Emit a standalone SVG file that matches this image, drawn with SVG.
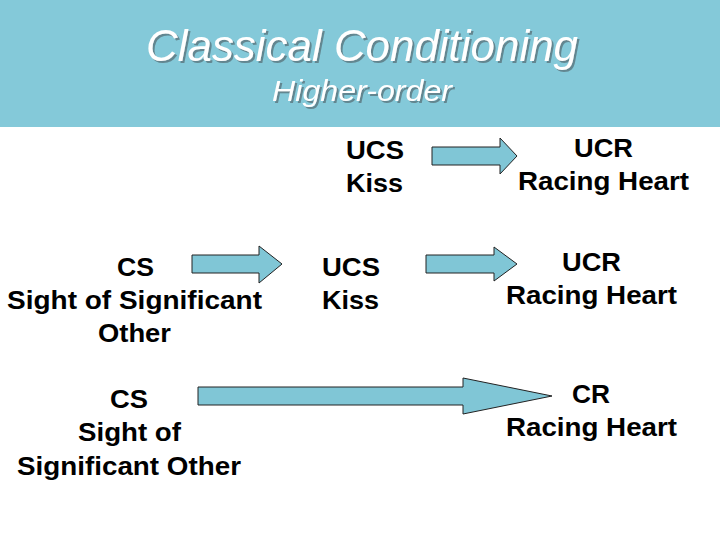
<svg xmlns="http://www.w3.org/2000/svg" width="720" height="540" viewBox="0 0 720 540">
<style>
.t{font-family:"Liberation Sans",Arial,sans-serif;font-weight:bold;font-size:26px;fill:#000}
.h{font-family:"Liberation Sans",Arial,sans-serif;font-style:italic;text-anchor:middle;fill:#fff}
.arr{fill:#80C6D6;stroke:#222;stroke-width:1}
</style>
<defs>
<filter id="shadow" x="-5%" y="-20%" width="110%" height="140%">
<feDropShadow dx="2" dy="2" stdDeviation="0.6" flood-color="#5E7F88" flood-opacity="0.9"/>
</filter>
</defs>
<rect x="0" y="0" width="720" height="540" fill="#fff"/>
<g id="header">
<rect x="0" y="0" width="720" height="127" fill="#84C9D9"/>
<text class="h" x="362" y="61" font-size="44" filter="url(#shadow)" textLength="432" lengthAdjust="spacingAndGlyphs">Classical Conditioning</text>
<text class="h" x="362" y="101" font-size="30" filter="url(#shadow)" textLength="180" lengthAdjust="spacingAndGlyphs">Higher-order</text>
</g>
<g id="connectors">
<polygon class="arr" points="432,147 500,147 500,138 517,156 500,174 500,165 432,165"/>
<polygon class="arr" points="192,255 259,255 259,246 282,264 259,283 259,273 192,273"/>
<polygon class="arr" points="426,255 494,255 494,247 517,264 494,281 494,273 426,273"/>
<polygon class="arr" points="198,387 463,387 463,378 552,396 463,414 463,405 198,405"/>
</g>
<g id="ucs-top">
<text class="t" x="346" y="159" textLength="58" lengthAdjust="spacingAndGlyphs">UCS</text>
<text class="t" x="346" y="192" textLength="57" lengthAdjust="spacingAndGlyphs">Kiss</text>
</g>
<g id="ucr-top">
<text class="t" x="574" y="157" textLength="59" lengthAdjust="spacingAndGlyphs">UCR</text>
<text class="t" x="518" y="190" textLength="171" lengthAdjust="spacingAndGlyphs">Racing Heart</text>
</g>
<g id="cs-mid">
<text class="t" x="117" y="276" textLength="37" lengthAdjust="spacingAndGlyphs">CS</text>
<text class="t" x="7" y="309" textLength="255" lengthAdjust="spacingAndGlyphs">Sight of Significant</text>
<text class="t" x="98" y="342" textLength="73" lengthAdjust="spacingAndGlyphs">Other</text>
</g>
<g id="ucs-mid">
<text class="t" x="322" y="276" textLength="58" lengthAdjust="spacingAndGlyphs">UCS</text>
<text class="t" x="322" y="309" textLength="57" lengthAdjust="spacingAndGlyphs">Kiss</text>
</g>
<g id="ucr-mid">
<text class="t" x="562" y="271" textLength="59" lengthAdjust="spacingAndGlyphs">UCR</text>
<text class="t" x="506" y="304" textLength="171" lengthAdjust="spacingAndGlyphs">Racing Heart</text>
</g>
<g id="cs-bottom">
<text class="t" x="110" y="408" textLength="38" lengthAdjust="spacingAndGlyphs">CS</text>
<text class="t" x="78" y="441" textLength="103" lengthAdjust="spacingAndGlyphs">Sight of</text>
<text class="t" x="17" y="475" textLength="224" lengthAdjust="spacingAndGlyphs">Significant Other</text>
</g>
<g id="cr-bottom">
<text class="t" x="572" y="403" textLength="38" lengthAdjust="spacingAndGlyphs">CR</text>
<text class="t" x="506" y="436" textLength="171" lengthAdjust="spacingAndGlyphs">Racing Heart</text>
</g>
</svg>
